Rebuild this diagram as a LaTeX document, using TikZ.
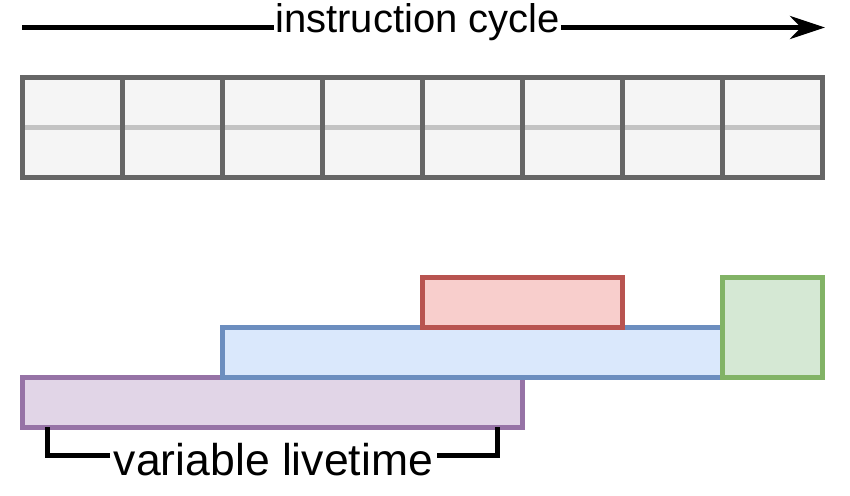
\documentclass[tikz,border=0pt]{standalone}
\usepackage{fontspec}
\setmainfont{Liberation Sans}
\usetikzlibrary{arrows.meta}
\definecolor{gridfill}{HTML}{F5F5F5}
\definecolor{gridline}{HTML}{666666}
\definecolor{redfill}{HTML}{F8CECC}
\definecolor{redline}{HTML}{B85450}
\definecolor{bluefill}{HTML}{DAE8FC}
\definecolor{blueline}{HTML}{6C8EBF}
\definecolor{greenfill}{HTML}{D5E8D4}
\definecolor{greenline}{HTML}{82B366}
\definecolor{purplefill}{HTML}{E1D5E7}
\definecolor{purpleline}{HTML}{9673A6}
\tikzset{
  cell/.style={draw=gridline, fill=gridfill, line width=5pt, minimum width=100pt, minimum height=100pt, inner sep=0pt, outer sep=0pt},
  bar/.style n args={4}{draw=#2, fill=#1, line width=5pt, minimum width=#3, minimum height=#4, inner sep=0pt, outer sep=0pt},
  heavy/.style={line width=5pt, black},
  label/.style={fill=white, inner ysep=0pt, text=black},
}
\begin{document}
\begin{tikzpicture}[x=1pt, y=-1pt]
\useasboundingbox (0,0) rectangle (850,495);
% grid of cells
\foreach \i in {1,...,8} {
  \node[cell] (c\i) at ({-27.5+100*\i},127.5) {};
}
\coordinate (ml) at (22.5,127.5);
\coordinate (mr) at (822.5,127.5);
\draw[gridline, line width=5pt, opacity=0.35] (ml) -- (mr);
% instruction cycle arrow
\coordinate (as) at (22,27.5);
\coordinate (ae) at (825,27.5);
\node[label, inner xsep=1pt, anchor=base, font=\fontsize{40}{48}\selectfont] (ic) at (417.5,33) {instruction cycle};
\draw[heavy] (as) -- (as -| ic.west);
\draw[heavy, -{Stealth[length=35pt, width=23pt, inset=11pt]}] (ae -| ic.east) -- (ae);
% lifetime bars
\node[bar={purplefill}{purpleline}{500pt}{50pt}] (pu) at (272.5,402.5) {};
\node[bar={bluefill}{blueline}{500pt}{50pt}] (bl) at (472.5,352.5) {};
\node[bar={redfill}{redline}{200pt}{50pt}] (re) at (522.5,302.5) {};
\node[bar={greenfill}{greenline}{100pt}{100pt}] (gr) at (772.5,327.5) {};
% bracket
\coordinate (b1) at (47.5,427);
\coordinate (b2) at (47.5,455);
\coordinate (b3) at (497.5,455);
\coordinate (b4) at (497.5,427);
\draw[heavy] (b1) -- (b2) -- (b3) -- (b4);
\node[label, inner xsep=4pt, anchor=base, font=\fontsize{44.5}{52}\selectfont] (vl) at (273.5,475) {variable livetime};
\end{tikzpicture}
\end{document}
